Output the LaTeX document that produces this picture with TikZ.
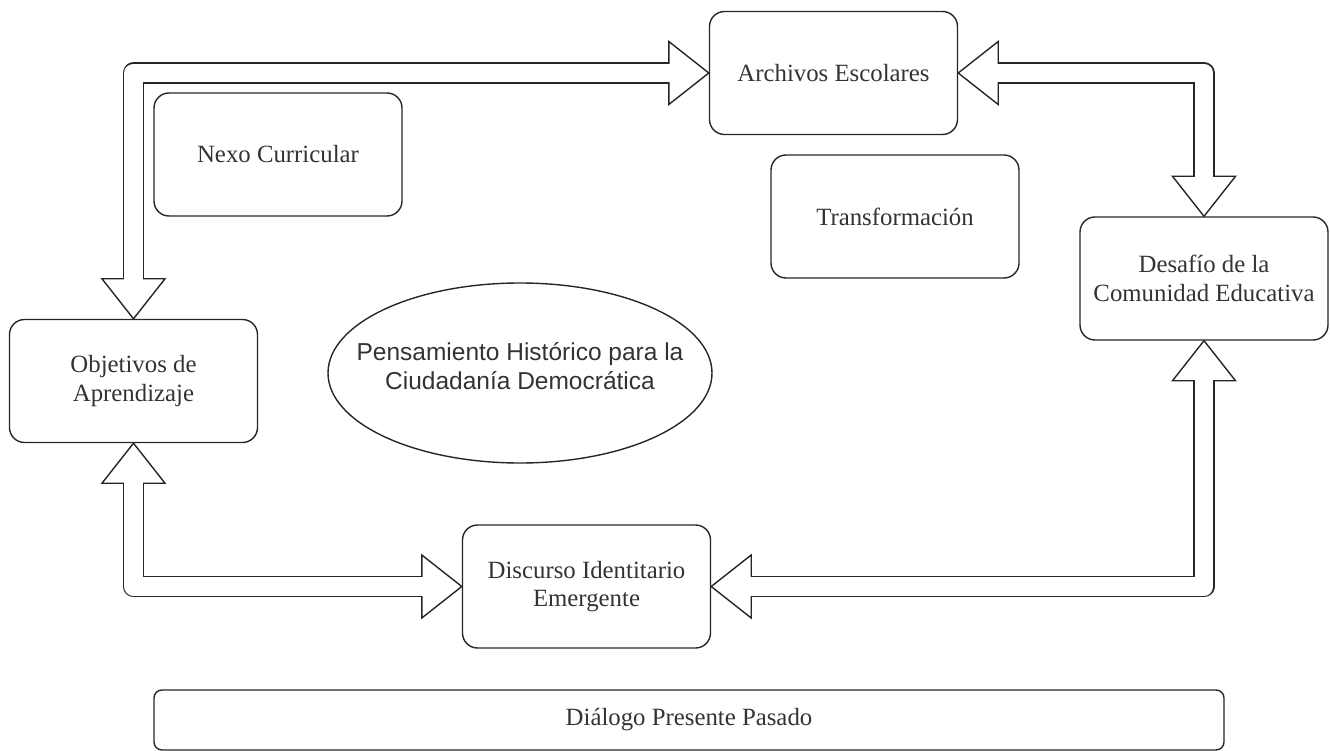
\documentclass[tikz,border=0pt]{standalone}
\usepackage{fontspec}
\setmainfont{Liberation Serif}
\newfontfamily\arialfont{Liberation Sans}
\usetikzlibrary{shapes.geometric,calc}
\begin{document}
\begin{tikzpicture}[x=1pt,y=-1pt,
  box/.style={draw=black!85, line width=1.4pt, rounded corners=15pt,
    minimum width=248pt, minimum height=123pt, align=center,
    font=\fontsize{24.8}{28.5}\selectfont, text=black!80, inner sep=0pt},
  shaftout/.style={draw=black!85, line width=21.4pt, line join=round,
    shorten <=40pt, shorten >=40pt},
  shaftin/.style={draw=white, line width=18.6pt, line join=round,
    shorten <=37pt, shorten >=37pt},
  head/.style={draw=black!85, fill=white, line width=1.4pt, line join=miter},
]
\useasboundingbox (0,0) rectangle (1330,751);

% nodes
\node[box] (arch)  at (833.5,73)   {Archivos Escolares};
\node[box] (nexo)  at (278,154.5)  {Nexo Curricular};
\node[box] (trans) at (895,216.5)  {Transformación};
\node[box] (des)   at (1204,278.5) {Desafío de la\\Comunidad Educativa};
\node[box] (obj)   at (133.5,381)  {Objetivos de\\Aprendizaje};
\node[box] (disc)  at (586.5,586.5){Discurso Identitario\\Emergente};
\node[box, minimum width=1070pt, minimum height=60pt, rounded corners=8pt]
  (dial) at (689,720) {Diálogo Presente Pasado};
\node[draw=black!85, line width=1.4pt, ellipse, minimum width=384pt,
  minimum height=180pt, inner sep=0pt,
  label={[yshift=7pt, align=center, text=black!80,
    font=\arialfont\fontsize{24.5}{29}\selectfont]center:Pensamiento Histórico para la\\Ciudadanía Democrática}]
  (pens) at (520,373) {};

% connector outlines
\draw[shaftout] (obj.north) |- (arch.west);
\draw[shaftout] (arch.east) -| (des.north);
\draw[shaftout] (des.south) |- (disc.east);
\draw[shaftout] (obj.south) |- (disc.west);

% arrow heads
\draw[head] (arch.west) -- ++(-40,-31.5) -- ++(0,63) -- cycle;
\draw[head] (obj.north) -- ++(-31.5,-40) -- ++(63,0) -- cycle;
\draw[head] (arch.east) -- ++(40,-31.5) -- ++(0,63) -- cycle;
\draw[head] (des.north) -- ++(-31.5,-40) -- ++(63,0) -- cycle;
\draw[head] (des.south) -- ++(-31.5,40) -- ++(63,0) -- cycle;
\draw[head] (disc.east) -- ++(40,-31.5) -- ++(0,63) -- cycle;
\draw[head] (obj.south) -- ++(-31.5,40) -- ++(63,0) -- cycle;
\draw[head] (disc.west) -- ++(-40,-31.5) -- ++(0,63) -- cycle;

% connector interiors
\draw[shaftin] (obj.north) |- (arch.west);
\draw[shaftin] (arch.east) -| (des.north);
\draw[shaftin] (des.south) |- (disc.east);
\draw[shaftin] (obj.south) |- (disc.west);
\end{tikzpicture}
\end{document}
